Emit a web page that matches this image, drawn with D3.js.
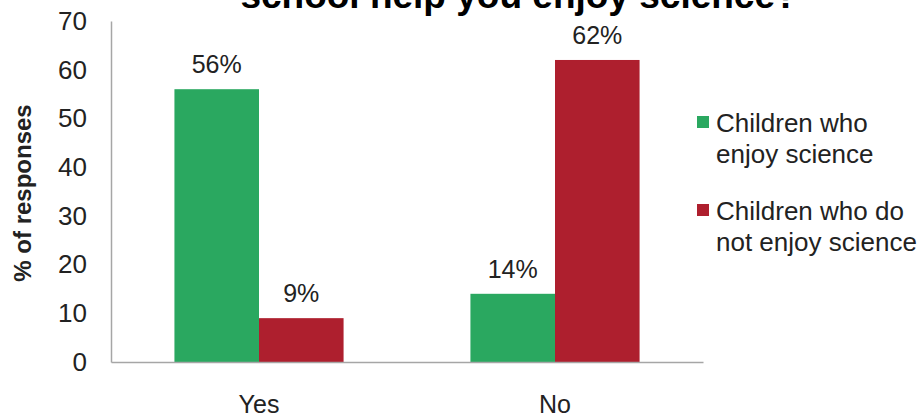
<!DOCTYPE html>
<html><head><meta charset="utf-8">
<script src="https://cdn.jsdelivr.net/npm/d3@7"></script>
<style>html,body{margin:0;padding:0;background:#fff;}svg{display:block;font-family:"Liberation Sans",Arial,sans-serif;}</style>
</head><body>
<script>
const categories = ["Yes", "No"];
const seriesNames = ["Children who enjoy science", "Children who do not enjoy science"];
const legendLines = [["Children who", "enjoy science"], ["Children who do", "not enjoy science"]];
const enjoyValues = [56, 14];
const notEnjoyValues = [9, 62];
const yTicks = [0, 10, 20, 30, 40, 50, 60, 70];
const colors = ["#2aa860", "#ae1f2e"];
const titleText = "school help you enjoy science?";
const yTitle = "% of responses";

const W = 923, H = 416;
const m = {left: 111, right: 220, top: 21, bottom: 54};
const FS = 25;
const svg = d3.select("body").append("svg").attr("width", W).attr("height", H);

const x0 = d3.scaleBand().domain(categories).range([m.left, W - m.right]).paddingInner(0).paddingOuter(0);
const x1 = d3.scaleBand().domain([0, 1]).range([0, x0.bandwidth()]).paddingInner(0).paddingOuter(0.75);
const y = d3.scaleLinear().domain([0, 70]).range([H - m.bottom, m.top]);

// title (second line visible)
svg.append("text").attr("x", 519).attr("y", 8).attr("text-anchor", "middle")
  .attr("font-size", 37).attr("font-weight", "bold").attr("fill", "#000").text(titleText);

// y axis
const yAxis = d3.axisLeft(y).tickValues(yTicks).tickSize(0).tickPadding(24);
const gy = svg.append("g").attr("transform", `translate(${m.left},0)`).call(yAxis);
gy.select(".domain").attr("stroke", "#a6a6a6").attr("stroke-width", 1.5);
gy.selectAll("text").attr("font-size", 26).attr("fill", "#222").attr("font-family", "Liberation Sans, Arial, sans-serif");

// x axis
const xAxis = d3.axisBottom(x0).tickSize(0).tickPadding(33);
const gx = svg.append("g").attr("transform", `translate(0,${y(0)})`).call(xAxis);
gx.select(".domain").attr("stroke", "#a6a6a6").attr("stroke-width", 1.5);
gx.selectAll("text").attr("font-size", FS).attr("fill", "#222").attr("font-family", "Liberation Sans, Arial, sans-serif");

// y title
svg.append("text").attr("transform", `translate(31,193) rotate(-90)`).attr("text-anchor", "middle")
  .attr("font-size", 24).attr("font-weight", "bold").attr("fill", "#222").text(yTitle);

const series = [enjoyValues, notEnjoyValues];
series.forEach((vals, si) => {
  const g = svg.append("g");
  g.selectAll("rect").data(categories).join("rect")
    .attr("x", (c) => x0(c) + x1(si))
    .attr("y", (c, i) => y(vals[i]))
    .attr("width", x1.bandwidth())
    .attr("height", (c, i) => y(0) - y(vals[i]))
    .attr("fill", colors[si]);
  g.selectAll("text").data(categories).join("text")
    .attr("x", (c) => x0(c) + x1(si) + x1.bandwidth() / 2)
    .attr("y", (c, i) => y(vals[i]) - 16)
    .attr("text-anchor", "middle").attr("font-size", FS).attr("fill", "#222")
    .text((c, i) => vals[i] + "%");
});
gx.raise();

// legend
const leg = svg.append("g");
const legTop = [116, 204];
legendLines.forEach((lines, i) => {
  leg.append("rect").attr("x", 697).attr("y", legTop[i]).attr("width", 12).attr("height", 12).attr("fill", colors[i]);
  lines.forEach((ln, j) => {
    leg.append("text").attr("x", 716).attr("y", legTop[i] + 16 + j * 30.5)
      .attr("font-size", 26).attr("fill", "#222").text(ln);
  });
});
</script>
</body></html>
